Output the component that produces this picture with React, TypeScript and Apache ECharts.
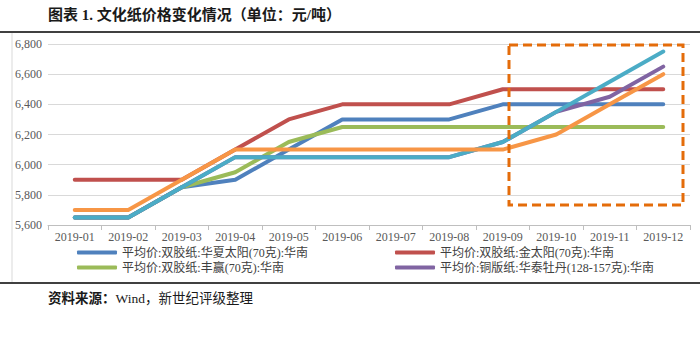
import React, { useEffect, useRef } from "react";
import * as echarts from "echarts";

const categories = ["2019-01","2019-02","2019-03","2019-04","2019-05","2019-06","2019-07","2019-08","2019-09","2019-10","2019-11","2019-12"];
const seriesNames = [
  "平均价:双胶纸:华夏太阳(70克):华南",
  "平均价:双胶纸:金太阳(70克):华南",
  "平均价:双胶纸:丰赢(70克):华南",
  "平均价:铜版纸:华泰牡丹(128-157克):华南",
  "系列5",
  "系列6",
];
const huaxiaTaiyang = [5650,5650,5850,5900,6100,6300,6300,6300,6400,6400,6400,6400];
const jinTaiyang = [5900,5900,5900,6100,6300,6400,6400,6400,6500,6500,6500,6500];
const fengying = [5650,5650,5850,5950,6150,6250,6250,6250,6250,6250,6250,6250];
const huataiMudan = [5650,5650,5850,6050,6050,6050,6050,6050,6150,6350,6450,6650];
const series5 = [5650,5650,5850,6050,6050,6050,6050,6050,6150,6350,6550,6750];
const series6 = [5700,5700,5900,6100,6100,6100,6100,6100,6100,6200,6400,6600];
const colors = ["#4F81BD","#C0504D","#9BBB59","#8064A2","#4BACC6","#F79646"];
const yMin = 5600, yMax = 6800, yInterval = 200;

const FONT = "'Liberation Serif', 'Noto Sans CJK SC', serif";

export default function App() {
  const ref = useRef<HTMLDivElement>(null);
  useEffect(() => {
    if (!ref.current) return;
    const chart = echarts.init(ref.current, null, { renderer: "svg" });
    const data = [huaxiaTaiyang, jinTaiyang, fengying, huataiMudan, series5, series6];
    const legendPos = [
      { left: 77, top: 246 },
      { left: 395, top: 246 },
      { left: 77, top: 261 },
      { left: 395, top: 261 },
    ];
    chart.setOption({
      animation: false,
      color: colors,
      textStyle: { fontFamily: FONT },
      grid: { left: 48, right: 10, top: 44, bottom: 125 },
      xAxis: {
        type: "category",
        data: categories,
        boundaryGap: true,
        axisLine: { lineStyle: { color: "#BFBFBF", width: 1 } },
        axisTick: { show: true, length: 5, lineStyle: { color: "#BFBFBF" } },
        axisLabel: { color: "#595959", fontSize: 12, fontFamily: FONT, margin: 6 },
      },
      yAxis: {
        type: "value",
        min: yMin,
        max: yMax,
        interval: yInterval,
        axisLine: { show: false },
        axisTick: { show: false },
        splitLine: { lineStyle: { color: "#D9D9D9", width: 1 } },
        axisLabel: {
          color: "#595959",
          fontSize: 12,
          fontFamily: FONT,
          margin: 6,
          formatter: (v: number) => v.toLocaleString("en-US"),
        },
      },
      legend: legendPos.map((p, i) => ({
        data: [seriesNames[i]],
        left: p.left,
        top: p.top,
        itemWidth: 40,
        itemHeight: 4,
        itemGap: 2,
        padding: 0,
        icon: "roundRect",
        textStyle: { color: "#404040", fontSize: 12, fontFamily: FONT, lineHeight: 13 },
      })),
      series: data.map((d, i) => ({
        name: seriesNames[i],
        type: "line",
        data: d,
        symbol: "none",
        lineStyle: { width: 4, color: colors[i], cap: "round", join: "round" },
        itemStyle: { color: colors[i] },
        z: 2 + i,
      })),
      graphic: [
        {
          type: "text",
          left: 48,
          top: 7,
          style: {
            text: "图表 1. 文化纸价格变化情况（单位：元/吨）",
            fontSize: 15,
            fontWeight: "bold",
            fontFamily: FONT,
            fill: "#1a1a1a",
          },
        },
        {
          type: "line",
          shape: { x1: 0, y1: 32, x2: 700, y2: 32 },
          style: { stroke: "#404040", lineWidth: 2 },
        },
        {
          type: "line",
          shape: { x1: 12, y1: 33, x2: 12, y2: 282 },
          style: { stroke: "#D9D9D9", lineWidth: 1 },
        },
        {
          type: "line",
          shape: { x1: 0, y1: 283, x2: 700, y2: 283 },
          style: { stroke: "#404040", lineWidth: 2 },
        },
        {
          type: "rect",
          shape: { x: 509, y: 45, width: 174, height: 160 },
          style: { fill: "none", stroke: "#E46C0A", lineWidth: 3, lineDash: [9, 5] },
          z: 100,
        },
        {
          type: "text",
          left: 48,
          top: 292,
          style: {
            text: "{b|资料来源：}{n|Wind，新世纪评级整理}",
            rich: {
              b: { fontSize: 13.5, fontWeight: "bold", fontFamily: FONT, fill: "#1a1a1a" },
              n: { fontSize: 13.5, fontFamily: FONT, fill: "#1a1a1a" },
            },
          },
        },
      ],
    });
    return () => chart.dispose();
  }, []);
  return <div ref={ref} style={{ width: 700, height: 350, position: "absolute", left: 0, top: 0 }} />;
}
